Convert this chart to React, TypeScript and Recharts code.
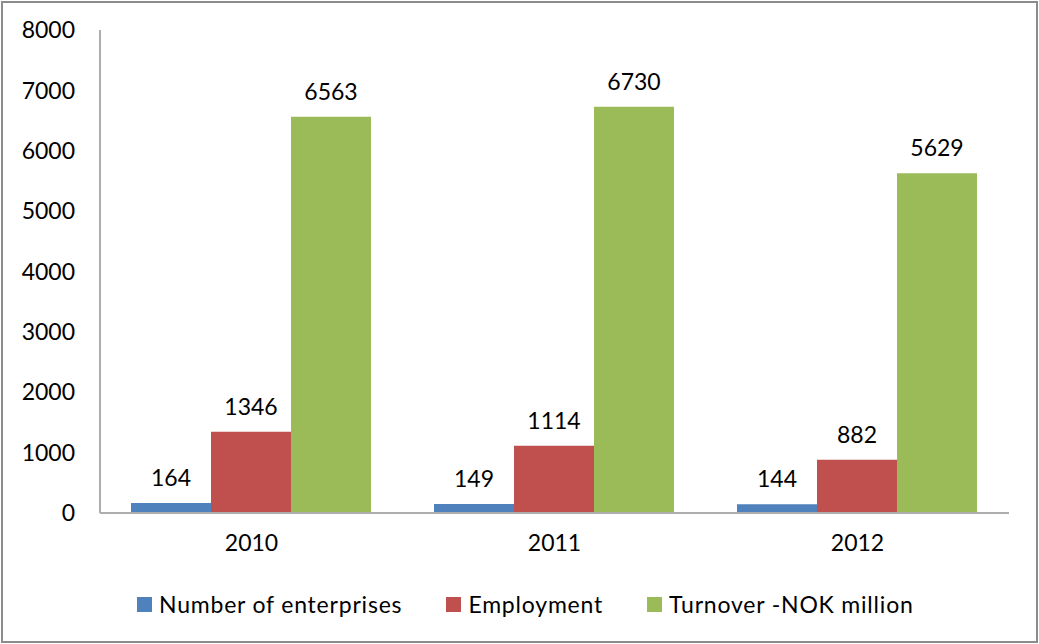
import { BarChart, Bar, XAxis, YAxis, Legend, LabelList } from "recharts";

const years = ["2010", "2011", "2012"];
const enterprises = [164, 149, 144];
const employment = [1346, 1114, 882];
const turnover = [6563, 6730, 5629];
const yTicks = [0, 1000, 2000, 3000, 4000, 5000, 6000, 7000, 8000];

const series = [
  { key: "enterprises", name: "Number of enterprises", color: "#4F81BD" },
  { key: "employment", name: "Employment", color: "#C0504D" },
  { key: "turnover", name: "Turnover -NOK million", color: "#9BBB59" },
];

const data = years.map((year, i) => ({
  year,
  enterprises: enterprises[i],
  employment: employment[i],
  turnover: turnover[i],
}));

const FONT = "Lato, 'Open Sans', sans-serif";

function ChartLegend() {
  return (
    <div
      style={{
        display: "flex",
        alignItems: "center",
        height: 60,
        paddingLeft: 137,
        fontFamily: FONT,
        fontSize: 23,
        letterSpacing: 0.8,
        color: "#000",
      }}
    >
      {series.map((s) => (
        <div key={s.key} style={{ display: "flex", alignItems: "center", marginRight: 44 }}>
          <span style={{ width: 15, height: 15, background: s.color, display: "inline-block", marginRight: 7 }} />
          <span>{s.name}</span>
        </div>
      ))}
    </div>
  );
}

export default function App() {
  return (
    <div style={{ position: "absolute", left: 0, top: 0, width: 1039, height: 644, background: "#fff" }}>
      <BarChart
        width={1039}
        height={644}
        data={data}
        margin={{ top: 30, right: 30, left: 0, bottom: 10 }}
        barCategoryGap={31}
        barGap={0}
      >
        <XAxis
          dataKey="year"
          height={61}
          tickLine={false}
          tickSize={0}
          tickMargin={22}
          stroke="#adadad"
          strokeWidth={2}
          tick={{ fill: "#000", fontSize: 23, fontFamily: FONT }}
        />
        <YAxis
          width={100}
          domain={[0, 8000]}
          ticks={yTicks}
          interval={0}
          tickLine={false}
          tickSize={0}
          tickMargin={25}
          stroke="#adadad"
          strokeWidth={2}
          tick={{ fill: "#000", fontSize: 23, fontFamily: FONT }}
        />
        <Legend verticalAlign="bottom" height={60} content={() => <ChartLegend />} />
        {series.map((s) => (
          <Bar key={s.key} dataKey={s.key} name={s.name} fill={s.color} isAnimationActive={false}>
            <LabelList
              dataKey={s.key}
              position="top"
              offset={17}
              fill="#000"
              fontSize={23}
              fontFamily={FONT}
            />
          </Bar>
        ))}
      </BarChart>
      <div
        style={{
          position: "absolute",
          left: 1,
          top: 1,
          width: 1037,
          height: 642,
          boxSizing: "border-box",
          border: "2px solid #8c8c8c",
          pointerEvents: "none",
        }}
      />
    </div>
  );
}
